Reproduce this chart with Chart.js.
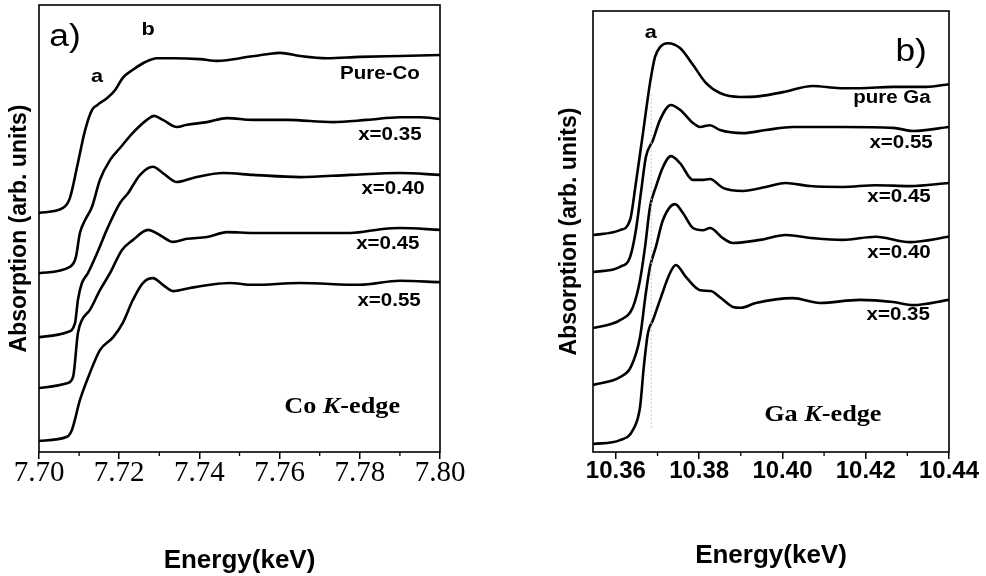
<!DOCTYPE html>
<html><head><meta charset="utf-8">
<script src="https://cdn.jsdelivr.net/npm/chart.js@4/dist/chart.umd.min.js"></script>
<style>
html,body{margin:0;padding:0;background:#fff;width:986px;height:576px;overflow:hidden}
#pa{position:absolute;left:0;top:0}
#pb{position:absolute;left:493px;top:0}
</style></head><body>
<canvas id="pa" width="493" height="576"></canvas>
<canvas id="pb" width="493" height="576"></canvas>
<script>
// ---------- Panel a) Co K-edge ----------
const coTicks = [7.70, 7.72, 7.74, 7.76, 7.78, 7.80];
const coMinor = [7.71, 7.73, 7.75, 7.77, 7.79];
const coE_pure = [7.700,7.706,7.7077,7.7095,7.7115,7.7132,7.7145,7.717,7.719,7.7209,7.7234,7.7264,7.7294,7.7334,7.7401,7.7446,7.7501,7.7569,7.7601,7.7651,7.7718,7.7800,7.7900,7.800];
const coA_pure = [5.35,5.46,5.68,6.38,7.20,7.65,7.76,7.92,8.10,8.37,8.55,8.72,8.81,8.81,8.79,8.75,8.81,8.90,8.93,8.86,8.81,8.84,8.86,8.88];
const coE_035 = [7.700,7.7077,7.7092,7.7102,7.7115,7.7132,7.7152,7.7177,7.7202,7.7234,7.7269,7.7287,7.7309,7.7344,7.7369,7.7419,7.7469,7.7534,7.7619,7.7733,7.7818,7.7900,7.7950,7.800];
const coA_035 = [4.00,4.14,4.36,4.90,5.19,5.48,6.09,6.53,6.80,7.14,7.43,7.52,7.43,7.27,7.32,7.38,7.47,7.43,7.43,7.38,7.43,7.49,7.49,7.45];
const coE_040 = [7.700,7.707,7.709,7.7097,7.7107,7.7122,7.7145,7.7172,7.7202,7.7222,7.7252,7.7284,7.7309,7.7344,7.7384,7.7459,7.7534,7.7651,7.7776,7.7900,7.800];
const coA_040 = [2.57,2.68,2.89,3.40,3.78,4.00,4.45,5.03,5.57,5.79,6.20,6.38,6.24,6.04,6.13,6.24,6.20,6.15,6.20,6.24,6.20];
const coE_045 = [7.700,7.707,7.7085,7.7097,7.7107,7.7127,7.7152,7.7177,7.7207,7.7234,7.7272,7.7302,7.7334,7.7369,7.7419,7.7469,7.7534,7.7651,7.7776,7.7858,7.7900,7.800];
const coA_045 = [1.43,1.54,1.68,2.66,2.95,3.18,3.62,4.00,4.52,4.74,4.97,4.85,4.70,4.77,4.81,4.92,4.90,4.90,4.90,4.99,5.01,4.97];
const coE_055 = [7.700,7.707,7.7082,7.7102,7.7127,7.7152,7.7185,7.7209,7.7234,7.7259,7.7284,7.7309,7.7334,7.7377,7.7426,7.7476,7.7534,7.7651,7.7800,7.7900,7.800];
const coA_055 = [0.25,0.34,0.49,1.16,1.77,2.28,2.57,2.89,3.40,3.78,3.89,3.74,3.60,3.67,3.74,3.78,3.74,3.78,3.74,3.83,3.80];

// ---------- Panel b) Ga K-edge ----------
const gaTicks = [10.36, 10.38, 10.40, 10.42, 10.44];
const gaMinor = [10.37, 10.39, 10.41, 10.43];
const gaE_pure = [10.3545,10.361,10.3634,10.3648,10.3665,10.3682,10.3694,10.3706,10.3725,10.3754,10.3785,10.3816,10.385,10.3898,10.3946,10.4001,10.4073,10.4138,10.4186,10.4266,10.4345,10.44];
const gaA_pure = [4.92,5.03,5.26,6.10,7.23,8.37,8.96,9.18,9.27,9.16,8.78,8.37,8.14,8.05,8.07,8.16,8.30,8.25,8.25,8.28,8.28,8.34];
const gaE_055 = [10.3545,10.361,10.3634,10.3648,10.366,10.3672,10.3689,10.3706,10.3732,10.3754,10.3785,10.3802,10.3826,10.385,10.3905,10.396,10.4025,10.4145,10.4266,10.4314,10.44];
const gaA_055 = [4.08,4.20,4.42,5.03,5.87,6.69,7.07,7.53,7.87,7.76,7.46,7.37,7.41,7.30,7.23,7.30,7.37,7.37,7.35,7.28,7.37];
const gaE_045 = [10.3545,10.361,10.3641,10.3658,10.367,10.3682,10.3696,10.3713,10.3732,10.3754,10.3785,10.3809,10.3826,10.3857,10.3905,10.396,10.4008,10.4066,10.4145,10.4224,10.4306,10.44];
const gaA_045 = [2.81,2.99,3.29,3.90,4.65,5.56,6.01,6.46,6.71,6.55,6.17,6.17,6.19,5.99,5.92,6.01,6.10,6.03,6.01,6.05,6.03,6.10];
const gaE_040 = [10.3545,10.361,10.3636,10.3658,10.3672,10.3682,10.3696,10.3713,10.3742,10.3761,10.3785,10.3809,10.3826,10.3857,10.3881,10.3946,10.4008,10.4073,10.4145,10.4224,10.4306,10.44];
const gaA_040 = [1.52,1.70,1.93,2.61,3.61,4.20,4.65,5.26,5.62,5.42,5.08,5.03,5.08,4.85,4.74,4.81,4.92,4.85,4.81,4.88,4.76,4.88];
const gaE_035 = [10.3545,10.361,10.3641,10.3658,10.3667,10.3677,10.3689,10.3706,10.373,10.3744,10.3768,10.3802,10.3828,10.385,10.3881,10.39,10.3936,10.4025,10.409,10.4186,10.4266,10.4314,10.44];
const gaA_035 = [0.18,0.27,0.50,1.02,1.93,2.70,2.99,3.45,4.06,4.24,3.97,3.67,3.65,3.51,3.29,3.27,3.38,3.49,3.38,3.45,3.40,3.33,3.45];
const gaGuideE = [10.3685, 10.3685];
const gaGuideA = [0.54, 8.14];

// ---------- annotation texts (data coordinates) ----------
const SANS = '"Liberation Sans"', SERIF = '"Liberation Serif"';
const coLabels = [
  {parts:[['a)','31px '+SANS]], x:7.7065, y:9.28},
  {parts:[['b','bold 19px '+SANS]], x:7.7272, y:9.44},
  {parts:[['a','bold 19px '+SANS]], x:7.7145, y:8.39},
  {parts:[['Pure-Co','bold 18px '+SANS]], x:7.785, y:8.46},
  {parts:[['x=0.35','bold 18px '+SANS]], x:7.7875, y:7.09},
  {parts:[['x=0.40','bold 18px '+SANS]], x:7.7883, y:5.88},
  {parts:[['x=0.45','bold 18px '+SANS]], x:7.787, y:4.65},
  {parts:[['x=0.55','bold 18px '+SANS]], x:7.7873, y:3.38},
  {parts:[['Co ','bold 23px '+SERIF],['K','italic bold 23px '+SERIF],['-edge','bold 23px '+SERIF]], x:7.7756, y:1.01}
];
const gaLabels = [
  {parts:[['a','bold 19px '+SANS]], x:10.3684, y:9.50},
  {parts:[['b)','31px '+SANS]], x:10.4309, y:9.05},
  {parts:[['pure Ga','bold 18px '+SANS]], x:10.4263, y:8.03},
  {parts:[['x=0.55','bold 18px '+SANS]], x:10.4285, y:7.01},
  {parts:[['x=0.45','bold 18px '+SANS]], x:10.428, y:5.78},
  {parts:[['x=0.40','bold 18px '+SANS]], x:10.428, y:4.51},
  {parts:[['x=0.35','bold 18px '+SANS]], x:10.4278, y:3.11},
  {parts:[['Ga ','bold 23px '+SERIF],['K','italic bold 23px '+SERIF],['-edge','bold 23px '+SERIF]], x:10.4097, y:0.84}
];

function pts(E, A){ return E.map((e,i)=>({x:e, y:A[i]})); }
function curve(E, A){
  return {data: pts(E,A), borderColor:'#000', borderWidth:2.6, pointRadius:0, fill:false,
          cubicInterpolationMode:'monotone'};
}

const framePlugin = {
  id:'frame',
  afterDraw(chart){
    const {ctx, chartArea:a} = chart;
    ctx.save(); ctx.strokeStyle='#000'; ctx.lineWidth=1.6;
    ctx.strokeRect(a.left, a.top, a.right-a.left, a.bottom-a.top);
    ctx.restore();
  }
};
const minorPlugin = {
  id:'minorTicks',
  afterDraw(chart, args, opts){
    const {ctx, chartArea:a} = chart; const sx = chart.scales.x;
    ctx.save(); ctx.strokeStyle='#000'; ctx.lineWidth=1.3;
    for (const v of opts.values){
      const px = sx.getPixelForValue(v);
      ctx.beginPath(); ctx.moveTo(px, a.bottom); ctx.lineTo(px, a.bottom+4); ctx.stroke();
    }
    ctx.restore();
  }
};
const STRETCH = 1.14;
const textPlugin = {
  id:'texts',
  afterDraw(chart, args, opts){
    const ctx = chart.ctx; const sx = chart.scales.x, sy = chart.scales.y;
    ctx.save(); ctx.fillStyle='#000'; ctx.textBaseline='middle'; ctx.textAlign='left';
    for (const l of opts.labels){
      let w = 0;
      for (const [t,f] of l.parts){ ctx.font=f; w += ctx.measureText(t).width; }
      const cx = sx.getPixelForValue(l.x), cy = sy.getPixelForValue(l.y);
      ctx.save(); ctx.translate(cx, cy); ctx.scale(STRETCH, 1);
      let x = -w/2;
      for (const [t,f] of l.parts){ ctx.font=f; ctx.fillText(t, x, 0); x += ctx.measureText(t).width; }
      ctx.restore();
    }
    ctx.restore();
  }
};

function makePanel(id, cfg){
  return new Chart(document.getElementById(id), {
    type:'line',
    data:{datasets: cfg.datasets},
    plugins:[framePlugin, minorPlugin, textPlugin],
    options:{
      responsive:false, animation:false, devicePixelRatio:1,
      layout:{padding:{left:0, right:cfg.padRight, top:cfg.padTop, bottom:0}},
      plugins:{legend:{display:false}, tooltip:{enabled:false},
               minorTicks:{values:cfg.minor}, texts:{labels:cfg.labels}},
      scales:{
        x:{type:'linear', min:cfg.xmin, max:cfg.xmax,
           afterBuildTicks: s => { s.ticks = cfg.ticks.map(v=>({value:v})); },
           afterFit: s => { s.height = cfg.xHeight; },
           border:{display:false},
           grid:{drawOnChartArea:false, drawTicks:true, tickLength:7, color:'#000', lineWidth:1.5},
           ticks:{padding:0, color:'#000', font:cfg.tickFont, maxRotation:0, autoSkip:false,
                  callback: v => Number(v).toFixed(2)},
           title:{display:true, text:'Energy(keV)', color:'#000',
                  font:{family:SANS, weight:'bold', size:26}, padding:{top:0,bottom:cfg.xTitlePad}}
        },
        y:{type:'linear', min:0, max:10,
           afterFit: s => { s.width = cfg.yWidth; },
           border:{display:false},
           grid:{display:false},
           ticks:{display:false},
           title:{display:true, text:'Absorption (arb. units)', color:'#000',
                  font:{family:SANS, weight:'bold', size:23}, padding:{top:cfg.yTitlePad,bottom:0}}
        }
      }
    }
  });
}

makePanel('pa', {
  datasets:[curve(coE_pure,coA_pure), curve(coE_035,coA_035), curve(coE_040,coA_040), curve(coE_045,coA_045), curve(coE_055,coA_055)],
  xmin:7.70, xmax:7.80, ticks:coTicks, minor:coMinor, labels:coLabels,
  padRight:53, padTop:5, xHeight:124, yWidth:39, xTitlePad:0, yTitlePad:6,
  tickFont:{family:SERIF, size:29, lineHeight:1}
});
const gaGuide = {data:pts(gaGuideE, gaGuideA), borderColor:'#c8c8c8', borderWidth:1, borderDash:[2,2], pointRadius:0, fill:false};
makePanel('pb', {
  datasets:[gaGuide, curve(gaE_pure,gaA_pure), curve(gaE_055,gaA_055), curve(gaE_045,gaA_045), curve(gaE_040,gaA_040), curve(gaE_035,gaA_035)],
  xmin:10.3545, xmax:10.44, ticks:gaTicks, minor:gaMinor, labels:gaLabels,
  padRight:37, padTop:11, xHeight:124, yWidth:100, xTitlePad:5, yTitlePad:63,
  tickFont:{family:SANS, size:24, weight:'bold', lineHeight:1}
});
</script>
</body></html>
